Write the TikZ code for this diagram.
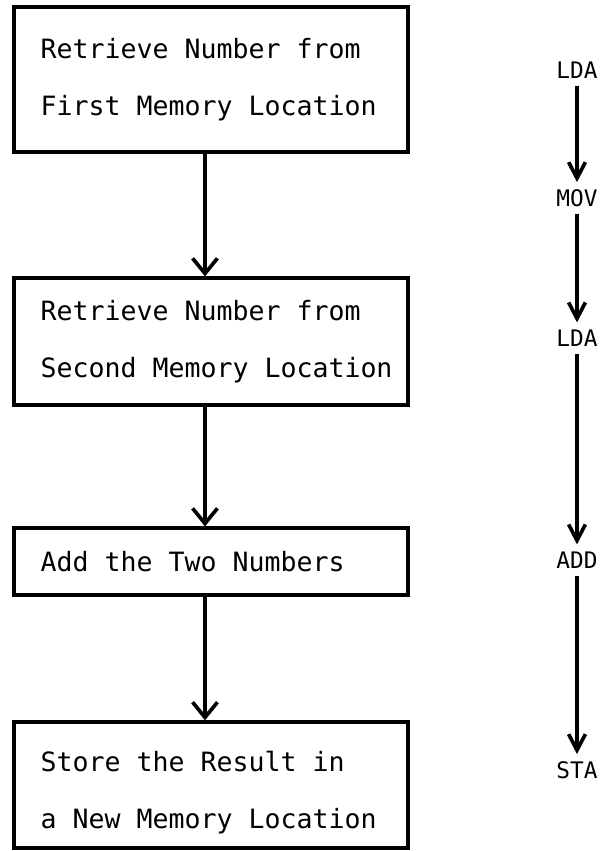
\documentclass[tikz,border=0pt]{standalone}
\usepackage{fontspec}
\usepackage{tikz}
\usetikzlibrary{arrows.meta}
\newfontfamily\typed{DejaVu Sans Mono}

\tikzset{
	box/.style={draw, line width=2.4pt, minimum width=9.85cm, inner sep=0pt},
	txt/.style={anchor=west, align=left, inner sep=0pt,
		font=\fontsize{18.9pt}{40.5pt}\selectfont\typed},
	op/.style={font=\fontsize{16.2pt}{18pt}\selectfont\typed, inner sep=5pt},
	flow/.style={-{Straight Barb[length=0.38cm, width=0.62cm, line width=2.6pt]}},
	seq/.style={-{Straight Barb[length=0.4cm, width=0.42cm, line width=2.6pt]}}
}

\begin{document}
\begin{tikzpicture}
	\useasboundingbox (0,0) rectangle (15.1,-21.275);
	% boxes
	\node[box, minimum height=3.625cm] (B1) at (5.275,-1.99) {};
	\node[box, minimum height=3.175cm] (B2) at (5.275,-8.54) {};
	\node[box, minimum height=1.675cm] (B3) at (5.275,-14.04) {};
	\node[box, minimum height=3.15cm] (B4) at (5.275,-19.625) {};
	% box texts
	\node[txt] (T1) at ([xshift=0.7cm]B1.west) {Retrieve Number from\\First Memory Location};
	\node[txt] (T2) at ([xshift=0.7cm]B2.west) {Retrieve Number from\\Second Memory Location};
	\node[txt] (T3) at ([xshift=0.7cm]B3.west) {Add the Two Numbers};
	\node[txt] (T4) at ([xshift=0.7cm,yshift=-0.2cm]B4.west) {Store the Result in\\a New Memory Location};
	% instructions
	\node[op] (I1) at (14.425,-1.75) {LDA};
	\node[op] (I2) at (14.425,-4.95) {MOV};
	\node[op] (I3) at (14.425,-8.45) {LDA};
	\node[op] (I4) at (14.425,-14.0) {ADD};
	\node[op] (I5) at (14.425,-19.25) {STA};
	%
	\path[draw, line width=2.6pt]
	% flow arrows
	([xshift=-0.15cm]B1.south) edge[flow] ([xshift=-0.15cm]B2.north)
	([xshift=-0.15cm]B2.south) edge[flow] ([xshift=-0.15cm]B3.north)
	([xshift=-0.15cm]B3.south) edge[flow] ([xshift=-0.15cm]B4.north)
	% instruction arrows
	(I1) edge[seq] (I2)
	(I2) edge[seq] (I3)
	(I3) edge[seq] (I4)
	(I4) edge[seq] (I5);
\end{tikzpicture}
\end{document}
